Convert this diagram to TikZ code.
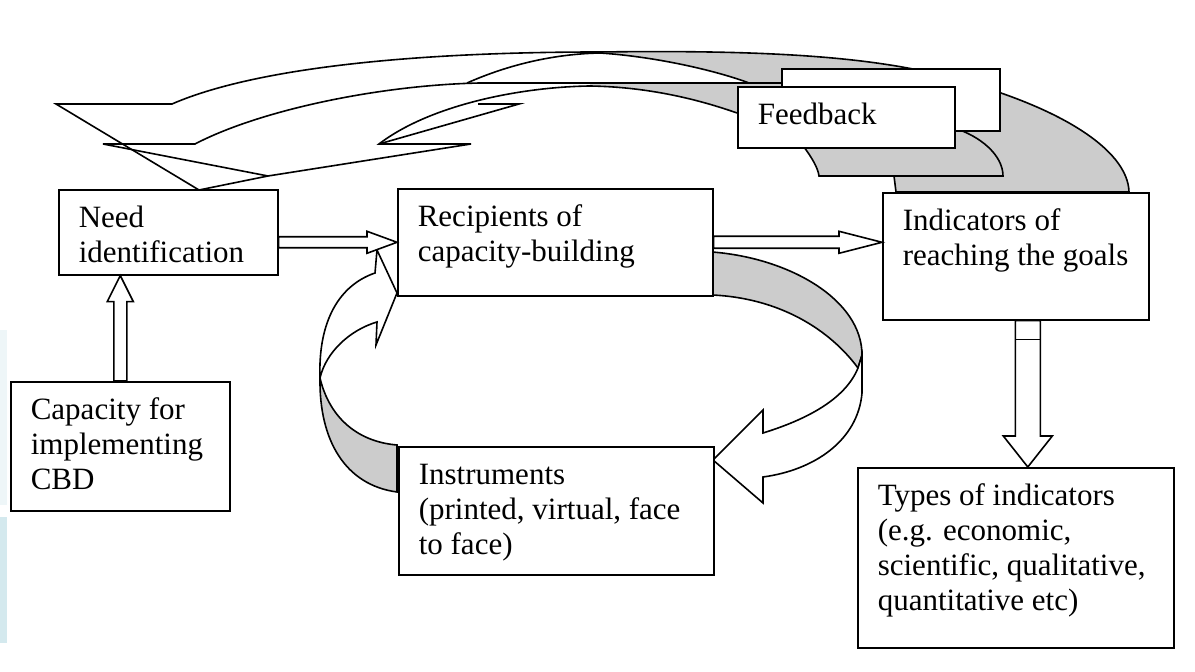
\documentclass[tikz,border=0pt]{standalone}
\usepackage{fontspec}
\setmainfont{Liberation Serif}
\usepackage{tikz}
\usetikzlibrary{calc}

\definecolor{sombra}{gray}{0.8}
\definecolor{franja}{RGB}{212,233,238}
\definecolor{franjaclara}{RGB}{238,246,248}

\tikzset{
  caja/.style={draw, fill=white, anchor=north west, inner xsep=10pt, inner ysep=0pt,
    text height=19pt, align=flush left, font=\fontsize{15.5pt}{17.5pt}\selectfont}
}

% flecha de bloque: desde, hasta, medio ancho, medio ancho punta, largo punta
\newcommand{\flecha}[5]{%
  \coordinate (fh) at ($(#2)!#5!(#1)$);
  \draw[fill=white] ($(#1)!#3!90:(#2)$) -- ($(fh)!#3!90:(#2)$) -- ($(fh)!#4!90:(#2)$) -- (#2)
    -- ($(fh)!#4!-90:(#2)$) -- ($(fh)!#3!-90:(#2)$) -- ($(#1)!#3!-90:(#2)$) -- cycle;
}

\begin{document}
\begin{tikzpicture}[x=0.5pt, y=-0.5pt, line width=0.8pt]
        \useasboundingbox (0,0) rectangle (1195,672);
        \fill[franjaclara] (0,330) rectangle (7,505);
        \fill[franja] (0,517) rectangle (7,643);

        % retroalimentacion: sombras
        \fill[sombra] (600,52) .. controls (750,50) and (860,55) .. (940,75) -- (940,140) -- (781,140)
          -- (781,83) -- (749,83) .. controls (720,72) and (660,57) .. (600,53) -- cycle;
        \fill[sombra] (940,75) .. controls (1060,105) and (1128,150) .. (1129,192) -- (896,192)
          -- (894,176) -- (900,140) -- (940,140) -- cycle;
        \fill[sombra] (590,83) -- (781,83) -- (781,140) -- (737,140) -- (737,113)
          .. controls (700,100) and (650,87) .. (590,86) -- cycle;
        \fill[sombra] (954,128) .. controls (980,136) and (1003,155) .. (1003,176) -- (819,176)
          .. controls (818,168) and (812,158) .. (804,147) -- (804,130) -- cycle;

        % retroalimentacion: contornos
        \draw (199,190) -- (56,104) -- (172,104) .. controls (250,70) and (400,52) .. (600,52)
          .. controls (750,50) and (860,55) .. (940,75) .. controls (1060,105) and (1128,150) .. (1129,192)
          -- (896,192) -- (894,176);
        \draw (199,190) -- (268,176);
        \draw (379,144) -- (519,104) -- (478,104);
        \draw (467,83) .. controls (510,64) and (555,54) .. (600,53) .. controls (660,57) and (720,72) .. (749,83);
        \draw (781,83) -- (480,83) .. controls (380,85) and (260,110) .. (195,144) -- (103,144) -- (268,176)
          -- (471,144) -- (379,144) .. controls (430,105) and (520,87) .. (590,86)
          .. controls (650,87) and (700,100) .. (737,113);
        \draw (954,128) .. controls (980,136) and (1003,155) .. (1003,176) -- (819,176)
          .. controls (818,168) and (812,158) .. (804,147);

        % ciclo entre receptores e instrumentos
        \draw[fill=sombra] (320,378) .. controls (319,440) and (345,485) .. (397,492) -- (397,445)
          .. controls (360,442) and (330,420) .. (320,378) -- cycle;
        \draw[fill=white] (320,378) .. controls (318,320) and (340,285) .. (375,273) -- (377,250) -- (397,293)
          -- (376,345) -- (377,322) .. controls (350,330) and (326,352) .. (320,378) -- cycle;
        \draw[fill=sombra] (712,252) .. controls (790,258) and (862,300) .. (862,355) -- (858,368)
          .. controls (830,330) and (780,298) .. (712,295) -- cycle;
        \draw[fill=white] (862,355) -- (862,393) .. controls (858,440) and (815,470) .. (763,477) -- (763,503)
          -- (713,460) -- (763,410) -- (763,433) .. controls (805,420) and (845,400) .. (858,368) -- cycle;

        \node[caja, text width=89.5pt, text depth=23.5pt] (need) at (58,189) {Need\\identification};
        \node[caja, text width=89.5pt, text depth=45.5pt] (cap) at (10,381) {Capacity for\\implementing\\CBD};
        \node[caja, text width=137.5pt, text depth=34.5pt] (rec) at (397,188) {Recipients of\\capacity-building};
        \node[caja, text width=113pt, text depth=44.5pt] (ind) at (882,192) {Indicators of\\reaching~the~goals};
        \node[caja, text width=137.5pt, text depth=45pt] (inst) at (398,446) {Instruments\\(printed, virtual, face\\to face)};
        \node[caja, text width=138pt, text depth=71pt] (types) at (857,467) {Types of indicators\\(e.g. economic,\\scientific, qualitative,\\quantitative etc)};
        \node[caja, text width=89pt, text depth=12pt] (fbb) at (781,68) {};
        \node[caja, text width=88.5pt, text depth=11.5pt] (fb) at (737,86) {Feedback};

        \coordinate (a1) at (need.east |- rec.west);
        \flecha{a1}{rec.west}{2.75pt}{5.5pt}{15pt}
        \coordinate (a2) at (ind.west |- rec.east);
        \flecha{rec.east}{a2}{3pt}{5.5pt}{21.5pt}
        \coordinate (a3) at (need.south -| cap.north);
        \flecha{cap.north}{a3}{3.25pt}{6.5pt}{13pt}
        \coordinate (a4) at ($(ind.south)+(12,0)$);
        \coordinate (a5) at (types.north -| a4);
        \flecha{a4}{a5}{6.25pt}{12.25pt}{15.5pt}
        \draw ($(a4)+(-12.5,19)$) -- ++(25,0);
    \end{tikzpicture}
\end{document}
